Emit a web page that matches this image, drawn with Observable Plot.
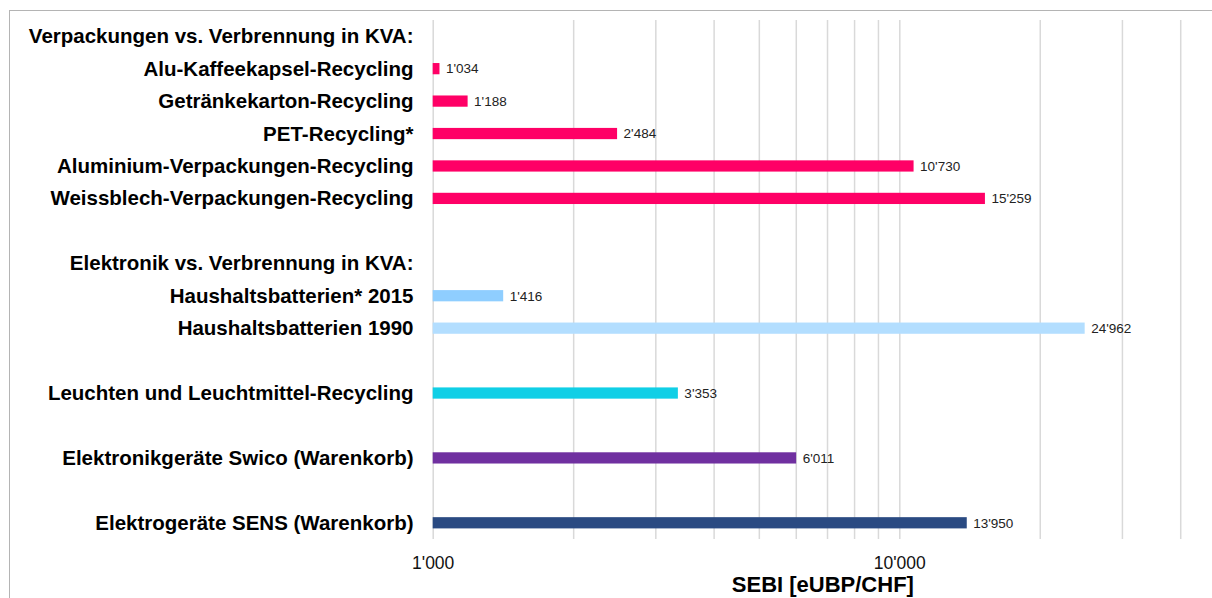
<!DOCTYPE html>
<html>
<head>
<meta charset="utf-8">
<script src="https://cdn.jsdelivr.net/npm/d3@7"></script>
<script src="https://cdn.jsdelivr.net/npm/@observablehq/plot@0.6"></script>
<style>
  html, body { margin: 0; padding: 0; background: #fff; overflow: hidden; }
  #wrap { position: relative; width: 1212px; height: 598px; }
  #frame { position: absolute; left: 9px; top: 10px; right: -2px; bottom: -2px; border-top: 1.5px solid #b4b4b4; border-left: 1.5px solid #b4b4b4; pointer-events: none; }
</style>
</head>
<body>
<div id="wrap"><div id="chart"></div><div id="frame"></div></div>
<script>
// Row order (blank rows are separators, headers have no bar)
const rowLabels = [
  "Verpackungen vs. Verbrennung in KVA:",
  "Alu-Kaffeekapsel-Recycling",
  "Getränkekarton-Recycling",
  "PET-Recycling*",
  "Aluminium-Verpackungen-Recycling",
  "Weissblech-Verpackungen-Recycling",
  " ",
  "Elektronik vs. Verbrennung in KVA:",
  "Haushaltsbatterien* 2015",
  "Haushaltsbatterien 1990",
  "  ",
  "Leuchten und Leuchtmittel-Recycling",
  "   ",
  "Elektronikgeräte Swico (Warenkorb)",
  "    ",
  "Elektrogeräte SENS (Warenkorb)"
];
const categories = [
  "Alu-Kaffeekapsel-Recycling",
  "Getränkekarton-Recycling",
  "PET-Recycling*",
  "Aluminium-Verpackungen-Recycling",
  "Weissblech-Verpackungen-Recycling",
  "Haushaltsbatterien* 2015",
  "Haushaltsbatterien 1990",
  "Leuchten und Leuchtmittel-Recycling",
  "Elektronikgeräte Swico (Warenkorb)",
  "Elektrogeräte SENS (Warenkorb)"
];
const values = [1034, 1188, 2484, 10730, 15259, 1416, 24962, 3353, 6011, 13950];
const barColors = ["#FF0066", "#FF0066", "#FF0066", "#FF0066", "#FF0066",
                   "#8FCEFF", "#B3DEFF", "#10CFE6", "#7030A0", "#2A4A82"];
const tickValues = [1000, 10000];
const gridValues = [1000, 2000, 3000, 4000, 5000, 6000, 7000, 8000, 9000, 10000, 20000, 30000, 40000];
const axisTitle = "SEBI [eUBP/CHF]";

const data = categories.map((c, i) => ({category: c, value: values[i], color: barColors[i]}));
const fmt = d3.formatLocale({decimal: ".", thousands: "'", grouping: [3], currency: ["", ""]}).format(",d");

const FONT = "'Liberation Sans', Arial, Helvetica, sans-serif";
const x0 = 432.7, decade = 466.6;

const chart = Plot.plot({
  width: 1212,
  height: 598,
  marginTop: 20,
  marginBottom: 59,
  marginLeft: x0,
  marginRight: 0,
  style: {fontFamily: FONT, background: "transparent", overflow: "hidden"},
  x: {type: "log", domain: [1000, 50000], range: [x0, x0 + decade * Math.log10(50)]},
  y: {type: "band", domain: rowLabels, padding: 0, round: false},
  marks: [
    Plot.ruleX(gridValues, {stroke: "#d9d9d9", strokeWidth: 1.5}),
    Plot.barX(data, {x1: 1000, x2: "value", y: "category", fill: "color", insetTop: 10.6, insetBottom: 10.6}),
    Plot.text(data, {x: "value", y: "category", text: d => fmt(d.value), dx: 6, textAnchor: "start", fontSize: 13.5, fill: "#222"}),
    Plot.axisY({tickSize: 0, tickPadding: 19.7, fontSize: 20.5, fontWeight: "bold", fill: "#000", label: null}),
    Plot.axisX({ticks: tickValues, tickSize: 0, tickPadding: 17, fontSize: 17.5, fill: "#111",
      tickFormat: fmt, label: axisTitle, labelAnchor: "center", labelArrow: "none", labelOffset: 52})
  ]
});
document.getElementById("chart").appendChild(chart);
// style the axis title (bold, larger)
chart.querySelectorAll("g[aria-label='x-axis label'] text").forEach(t => {
  t.setAttribute("font-size", 22);
  t.setAttribute("font-weight", "bold");
  t.setAttribute("fill", "#000");
});
</script>
</body>
</html>
